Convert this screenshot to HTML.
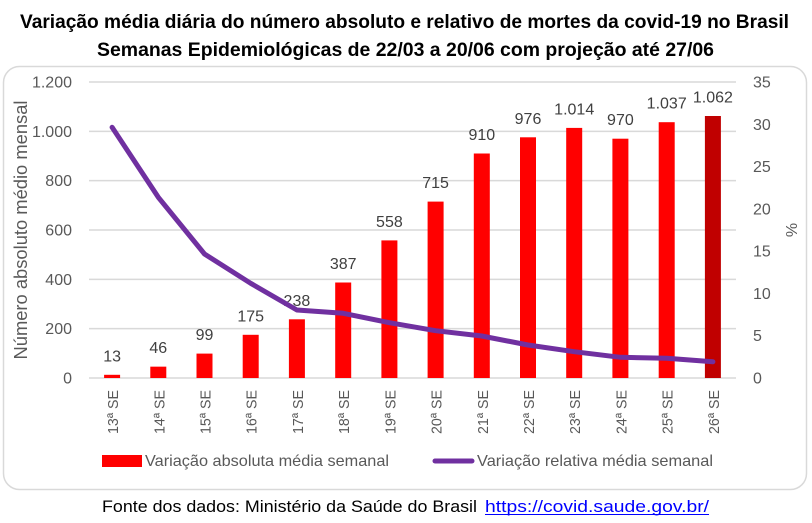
<!DOCTYPE html>
<html><head><meta charset="utf-8"><style>
html,body{margin:0;padding:0;background:#fff;}
svg{display:block;}
text{font-family:"Liberation Sans",Arial,sans-serif;}
</style></head><body>
<svg width="812" height="523" viewBox="0 0 812 523" xmlns="http://www.w3.org/2000/svg">
<rect x="0" y="0" width="812" height="523" fill="#fff"/>
<!-- Title -->
<text x="404.5" y="28" font-size="19" font-weight="bold" text-anchor="middle" textLength="769" lengthAdjust="spacingAndGlyphs" fill="#000">Variação média diária do número absoluto e relativo de mortes da covid-19 no Brasil</text>
<text x="405.5" y="56" font-size="19" font-weight="bold" text-anchor="middle" textLength="617" lengthAdjust="spacingAndGlyphs" fill="#000">Semanas Epidemiológicas de 22/03 a 20/06 com projeção até 27/06</text>
<!-- Chart border -->
<rect x="3.5" y="66.5" width="803" height="423" rx="16" ry="16" fill="#fff" stroke="#d9d9d9" stroke-width="1.5"/>
<!-- Gridlines -->
<g stroke="#d9d9d9" stroke-width="1.5">
<line x1="89" y1="82" x2="736" y2="82"/>
<line x1="89" y1="131.33" x2="736" y2="131.33"/>
<line x1="89" y1="180.67" x2="736" y2="180.67"/>
<line x1="89" y1="230" x2="736" y2="230"/>
<line x1="89" y1="279.33" x2="736" y2="279.33"/>
<line x1="89" y1="328.67" x2="736" y2="328.67"/>
<line x1="89" y1="378" x2="736" y2="378"/>
</g>
<!-- Left axis labels -->
<g font-size="16" fill="#595959" text-anchor="end">
<text x="72" y="383.5">0</text>
<text x="72" y="334.2">200</text>
<text x="72" y="284.8">400</text>
<text x="72" y="235.5">600</text>
<text x="72" y="186.2">800</text>
<text x="72" y="136.8">1.000</text>
<text x="72" y="87.5">1.200</text>
</g>
<!-- Right axis labels -->
<g font-size="16" fill="#595959" text-anchor="start">
<text x="753" y="383.5">0</text>
<text x="753" y="341.2">5</text>
<text x="753" y="298.9">10</text>
<text x="753" y="256.6">15</text>
<text x="753" y="214.4">20</text>
<text x="753" y="172.1">25</text>
<text x="753" y="129.8">30</text>
<text x="753" y="87.5">35</text>
</g>
<!-- Axis titles -->
<text transform="translate(27,230) rotate(-90)" font-size="18" fill="#595959" text-anchor="middle" textLength="259" lengthAdjust="spacingAndGlyphs">Número absoluto médio mensal</text>
<text transform="translate(797,230) rotate(-90)" font-size="16" fill="#595959" text-anchor="middle">%</text>
<!-- Bars -->
<g fill="#ff0000">
<rect x="104.1" y="374.8" width="16" height="3.2"/>
<rect x="150.3" y="366.65" width="16" height="11.35"/>
<rect x="196.5" y="353.6" width="16" height="24.4"/>
<rect x="242.7" y="334.8" width="16" height="43.2"/>
<rect x="288.9" y="319.3" width="16" height="58.7"/>
<rect x="335.2" y="282.5" width="16" height="95.5"/>
<rect x="381.4" y="240.4" width="16" height="137.6"/>
<rect x="427.6" y="201.6" width="16" height="176.4"/>
<rect x="473.8" y="153.5" width="16" height="224.5"/>
<rect x="520.0" y="137.3" width="16" height="240.7"/>
<rect x="566.2" y="127.9" width="16" height="250.1"/>
<rect x="612.4" y="138.7" width="16" height="239.3"/>
<rect x="658.7" y="122.2" width="16" height="255.8"/>
</g>
<rect x="704.9" y="116.0" width="16" height="262.0" fill="#c00000"/>
<!-- Data labels -->
<g font-size="16" fill="#404040" text-anchor="middle">
<text x="112.1" y="361.3">13</text>
<text x="158.3" y="353.2">46</text>
<text x="204.5" y="340.1">99</text>
<text x="250.7" y="321.3">175</text>
<text x="296.9" y="305.8">238</text>
<text x="343.2" y="269.0">387</text>
<text x="389.4" y="226.9">558</text>
<text x="435.6" y="188.1">715</text>
<text x="481.8" y="140.0">910</text>
<text x="528.0" y="123.8">976</text>
<text x="574.2" y="114.4">1.014</text>
<text x="620.4" y="125.2">970</text>
<text x="666.7" y="108.7">1.037</text>
<text x="712.9" y="102.5">1.062</text>
</g>
<!-- Line -->
<polyline fill="none" stroke="#7030a0" stroke-width="5" stroke-linejoin="round" stroke-linecap="round"
points="112.1,127.3 158.3,197.3 204.5,254 250.7,283.3 296.9,310 343.2,313.3 389.4,322.7 435.6,330.7 481.8,336 528.0,345 574.2,351.7 620.4,357.3 666.7,358.3 712.9,361.7"/>
<!-- X labels -->
<g font-size="15" fill="#595959" text-anchor="end">
<text transform="translate(118.1,390) rotate(-90)" textLength="44" lengthAdjust="spacingAndGlyphs">13ª SE</text>
<text transform="translate(164.3,390) rotate(-90)" textLength="44" lengthAdjust="spacingAndGlyphs">14ª SE</text>
<text transform="translate(210.5,390) rotate(-90)" textLength="44" lengthAdjust="spacingAndGlyphs">15ª SE</text>
<text transform="translate(256.7,390) rotate(-90)" textLength="44" lengthAdjust="spacingAndGlyphs">16ª SE</text>
<text transform="translate(302.9,390) rotate(-90)" textLength="44" lengthAdjust="spacingAndGlyphs">17ª SE</text>
<text transform="translate(349.2,390) rotate(-90)" textLength="44" lengthAdjust="spacingAndGlyphs">18ª SE</text>
<text transform="translate(395.4,390) rotate(-90)" textLength="44" lengthAdjust="spacingAndGlyphs">19ª SE</text>
<text transform="translate(441.6,390) rotate(-90)" textLength="44" lengthAdjust="spacingAndGlyphs">20ª SE</text>
<text transform="translate(487.8,390) rotate(-90)" textLength="44" lengthAdjust="spacingAndGlyphs">21ª SE</text>
<text transform="translate(534.0,390) rotate(-90)" textLength="44" lengthAdjust="spacingAndGlyphs">22ª SE</text>
<text transform="translate(580.2,390) rotate(-90)" textLength="44" lengthAdjust="spacingAndGlyphs">23ª SE</text>
<text transform="translate(626.4,390) rotate(-90)" textLength="44" lengthAdjust="spacingAndGlyphs">24ª SE</text>
<text transform="translate(672.7,390) rotate(-90)" textLength="44" lengthAdjust="spacingAndGlyphs">25ª SE</text>
<text transform="translate(718.9,390) rotate(-90)" textLength="44" lengthAdjust="spacingAndGlyphs">26ª SE</text>
</g>
<!-- Legend -->
<rect x="102" y="455" width="40" height="12" fill="#ff0000"/>
<text x="145" y="466" font-size="16" fill="#595959" textLength="244" lengthAdjust="spacingAndGlyphs">Variação absoluta média semanal</text>
<line x1="435" y1="461" x2="472" y2="461" stroke="#7030a0" stroke-width="5" stroke-linecap="round"/>
<text x="477" y="466" font-size="16" fill="#595959" textLength="236" lengthAdjust="spacingAndGlyphs">Variação relativa média semanal</text>
<!-- Footer -->
<text x="102" y="512" font-size="17" fill="#000" textLength="375" lengthAdjust="spacingAndGlyphs">Fonte dos dados: Ministério da Saúde do Brasil</text>
<text x="485" y="512" font-size="17" fill="#0000ff" textLength="224" lengthAdjust="spacingAndGlyphs">https://covid.saude.gov.br/</text>
<line x1="485" y1="514.5" x2="709" y2="514.5" stroke="#0000ff" stroke-width="1"/>
</svg>
</body></html>
